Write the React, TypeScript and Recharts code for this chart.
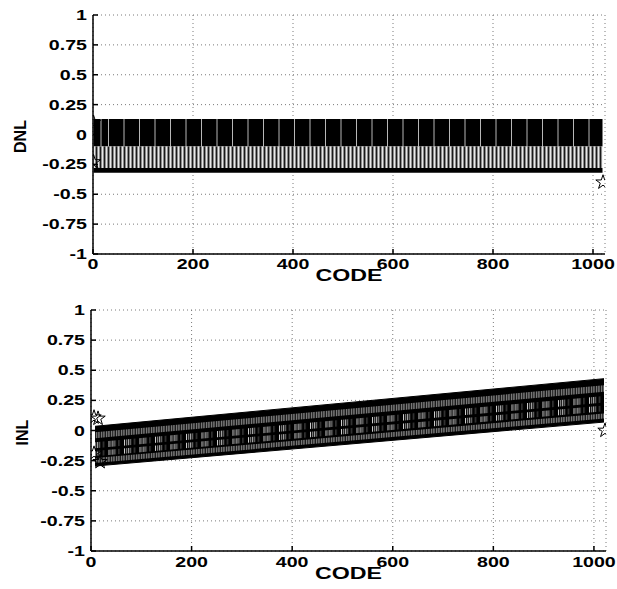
import { ComposedChart, Area, Scatter, XAxis, YAxis, CartesianGrid, ReferenceLine, Label } from 'recharts'

const FONT = '"Liberation Sans", Arial, Helvetica, sans-serif'

const CODE_TICKS = [0, 200, 400, 600, 800, 1000]
const LEVEL_TICKS = [-1, -0.75, -0.5, -0.25, 0, 0.25, 0.5, 0.75, 1]

// DNL trace is far too dense to read code by code, so it is kept as its visible layers
const DNL_CODES = [1, 1019]
const DNL_TOP = [0.13, 0.13]
const DNL_MID = [-0.1, -0.1]
const DNL_LOW = [-0.28, -0.28]
const DNL_FLOOR = [-0.32, -0.32]
const DNL_GAPS = [
  16, 31, 62, 93, 124, 155, 186, 217, 248, 279, 310, 341, 372, 403, 434, 465, 496,
  527, 558, 589, 620, 651, 682, 713, 744, 775, 806, 837, 868, 899, 930, 961, 992,
]
const DNL_MARK_CODES = [1, 1, 1020]
const DNL_MARK_VALUES = [0.1, -0.23, -0.4]

// INL band, edges at first and last code
const INL_CODES = [8, 1020]
const INL_TOP = [0.035, 0.43]
const INL_STRIPE_HI = [-0.015, 0.376]
const INL_STRIPE_LO = [-0.064, 0.322]
const INL_BLOCK1_HI = [-0.097, 0.286]
const INL_BLOCK1_LO = [-0.147, 0.232]
const INL_BLOCK2_HI = [-0.17, 0.207]
const INL_BLOCK2_LO = [-0.213, 0.16]
const INL_STRIPE2_HI = [-0.229, 0.142]
const INL_STRIPE2_LO = [-0.269, 0.099]
const INL_BOTTOM = [-0.295, 0.07]
const INL_MARK_CODES = [6, 14, 6, 18, 1022]
const INL_MARK_VALUES = [0.11, 0.1, -0.19, -0.26, 0]

const dnlRows = DNL_CODES.map((code, i) => ({
  code,
  top: [DNL_MID[i], DNL_TOP[i]],
  mid: [DNL_LOW[i], DNL_MID[i]],
  floor: [DNL_FLOOR[i], DNL_LOW[i]],
}))
const dnlMarks = DNL_MARK_CODES.map((code, i) => ({ code, value: DNL_MARK_VALUES[i] }))

const inlRows = INL_CODES.map((code, i) => ({
  code,
  band: [INL_BOTTOM[i], INL_TOP[i]],
  stripe: [INL_STRIPE_LO[i], INL_STRIPE_HI[i]],
  block1: [INL_BLOCK1_LO[i], INL_BLOCK1_HI[i]],
  block2: [INL_BLOCK2_LO[i], INL_BLOCK2_HI[i]],
  stripe2: [INL_STRIPE2_LO[i], INL_STRIPE2_HI[i]],
}))
const inlMarks = INL_MARK_CODES.map((code, i) => ({ code, value: INL_MARK_VALUES[i] }))

function CodeTick({ x, y, payload }: any) {
  return (
    <text x={x} y={y} dy="0.72em" textAnchor="middle" fontFamily={FONT} fontWeight="bold" fontSize={14} fill="#000"
      transform={`translate(${x} 0) scale(1.4 1) translate(${-x} 0)`}>
      {payload.value}
    </text>
  )
}

function LevelTick({ x, y, payload }: any) {
  return (
    <text x={x} y={y} dy="0.36em" textAnchor="end" fontFamily={FONT} fontWeight="bold" fontSize={14} fill="#000"
      transform={`translate(${x} 0) scale(1.4 1) translate(${-x} 0)`}>
      {payload.value}
    </text>
  )
}

function yTitle(text: string, left: number) {
  return (props: any) => {
    const vb = props.viewBox
    const cx = vb.x + left
    const cy = vb.y + vb.height / 2 + 2
    return (
      <text x={0} y={0} dy="0.36em" textAnchor="middle" fontFamily={FONT} fontWeight="bold" fontSize={16} fill="#000"
        transform={`translate(${cx} ${cy}) rotate(-90)`}>
        {text}
      </text>
    )
  }
}

function xTitle(drop: number) {
  return (props: any) => {
    const vb = props.viewBox
    const cx = vb.x + vb.width / 2
    const by = vb.y + drop
    return (
      <text x={cx} y={by} textAnchor="middle" fontFamily={FONT} fontWeight="bold" fontSize={16} fill="#000"
        transform={`translate(${cx} 0) scale(1.45 1) translate(${-cx} 0)`}>
        CODE
      </text>
    )
  }
}

const frameAxes = (pre: string) => [
  <XAxis key={pre + 'tx'} xAxisId="top" orientation="top" type="number" dataKey="code" domain={[0, 1024]} ticks={CODE_TICKS}
    allowDataOverflow height={0} tick={false} tickSize={-5} stroke="#000" />,
  <YAxis key={pre + 'ry'} yAxisId="right" orientation="right" type="number" domain={[-1, 1]} ticks={LEVEL_TICKS}
    allowDataOverflow width={0} tick={false} tickSize={-5} stroke="#000" />,
]

function DnlChart() {
  return (
    <ComposedChart width={617} height={295} data={dnlRows} margin={{ top: 15, right: 12, bottom: 0, left: 0 }}>
      <defs>
        <pattern id="dnlGray" patternUnits="userSpaceOnUse" width={4} height={4}>
          <rect x={0} y={0} width={4} height={4} fill="#8c8c8c" />
          <rect x={0} y={0} width={1} height={4} fill="#1a1a1a" />
          <rect x={2} y={0} width={1} height={4} fill="#e8e8e8" />
        </pattern>
      </defs>
      <CartesianGrid stroke="#7a7a7a" strokeDasharray="1 3" />
      <XAxis type="number" dataKey="code" domain={[0, 1024]} ticks={CODE_TICKS} allowDataOverflow height={41}
        tick={<CodeTick />} tickSize={-5} tickMargin={10} stroke="#000" strokeWidth={1.5}>
        <Label content={xTitle(27)} />
      </XAxis>
      <YAxis type="number" domain={[-1, 1]} ticks={LEVEL_TICKS} allowDataOverflow width={93}
        tick={<LevelTick />} tickSize={-5} tickMargin={11} stroke="#000" strokeWidth={1.5}>
        <Label content={yTitle('DNL', 20)} />
      </YAxis>
      {frameAxes('d')}
      <Area type="linear" dataKey="top" stroke="none" fill="#000" fillOpacity={1} isAnimationActive={false} />
      <Area type="linear" dataKey="mid" stroke="none" fill="url(#dnlGray)" fillOpacity={1} isAnimationActive={false} />
      <Area type="linear" dataKey="floor" stroke="none" fill="#000" fillOpacity={1} isAnimationActive={false} />
      {DNL_GAPS.map((c) => (
        <ReferenceLine key={c} segment={[{ x: c, y: DNL_MID[0] }, { x: c, y: DNL_TOP[0] }]} stroke="#e6e6e6" strokeWidth={0.8} />
      ))}
      <Scatter data={dnlMarks} dataKey="value" shape="star" fill="none" stroke="#000" isAnimationActive={false} />
    </ComposedChart>
  )
}

function InlChart() {
  return (
    <ComposedChart width={617} height={294} data={inlRows} margin={{ top: 15, right: 11, bottom: 0, left: 0 }}>
      <defs>
        <pattern id="inlStripe" patternUnits="userSpaceOnUse" width={2.5} height={3}>
          <rect x={0} y={0} width={2.5} height={3} fill="#111" />
          <rect x={1} y={0} width={1} height={3} fill="#a8a8a8" />
        </pattern>
        <pattern id="inlBlock" patternUnits="userSpaceOnUse" width={15.5} height={4}>
          <rect x={0} y={0} width={15.5} height={4} fill="#000" />
          <rect x={0} y={0} width={1} height={4} fill="#d0d0d0" />
          <rect x={2} y={0} width={1} height={4} fill="#8a8a8a" />
          <rect x={4} y={0} width={1} height={4} fill="#d0d0d0" />
          <rect x={6} y={0} width={1} height={4} fill="#8a8a8a" />
          <rect x={10} y={0} width={1} height={4} fill="#555" />
        </pattern>
      </defs>
      <CartesianGrid stroke="#7a7a7a" strokeDasharray="1 3" />
      <XAxis type="number" dataKey="code" domain={[0, 1024]} ticks={CODE_TICKS} allowDataOverflow height={38}
        tick={<CodeTick />} tickSize={-5} tickMargin={11} stroke="#000" strokeWidth={1.5}>
        <Label content={xTitle(28)} />
      </XAxis>
      <YAxis type="number" domain={[-1, 1]} ticks={LEVEL_TICKS} allowDataOverflow width={91}
        tick={<LevelTick />} tickSize={-5} tickMargin={11} stroke="#000" strokeWidth={1.5}>
        <Label content={yTitle('INL', 22)} />
      </YAxis>
      {frameAxes('i')}
      <Area type="linear" dataKey="band" stroke="#000" fill="#000" fillOpacity={1} isAnimationActive={false} />
      <Area type="linear" dataKey="stripe" stroke="none" fill="url(#inlStripe)" fillOpacity={1} isAnimationActive={false} />
      <Area type="linear" dataKey="block1" stroke="none" fill="url(#inlBlock)" fillOpacity={1} isAnimationActive={false} />
      <Area type="linear" dataKey="block2" stroke="none" fill="url(#inlBlock)" fillOpacity={1} isAnimationActive={false} />
      <Area type="linear" dataKey="stripe2" stroke="none" fill="url(#inlStripe)" fillOpacity={1} isAnimationActive={false} />
      <Scatter data={inlMarks} dataKey="value" shape="star" fill="none" stroke="#000" isAnimationActive={false} />
    </ComposedChart>
  )
}

export default function App() {
  return (
    <div style={{ position: 'absolute', left: 0, top: 0, width: 617, height: 589, background: '#fff' }}>
      <DnlChart />
      <InlChart />
    </div>
  )
}
